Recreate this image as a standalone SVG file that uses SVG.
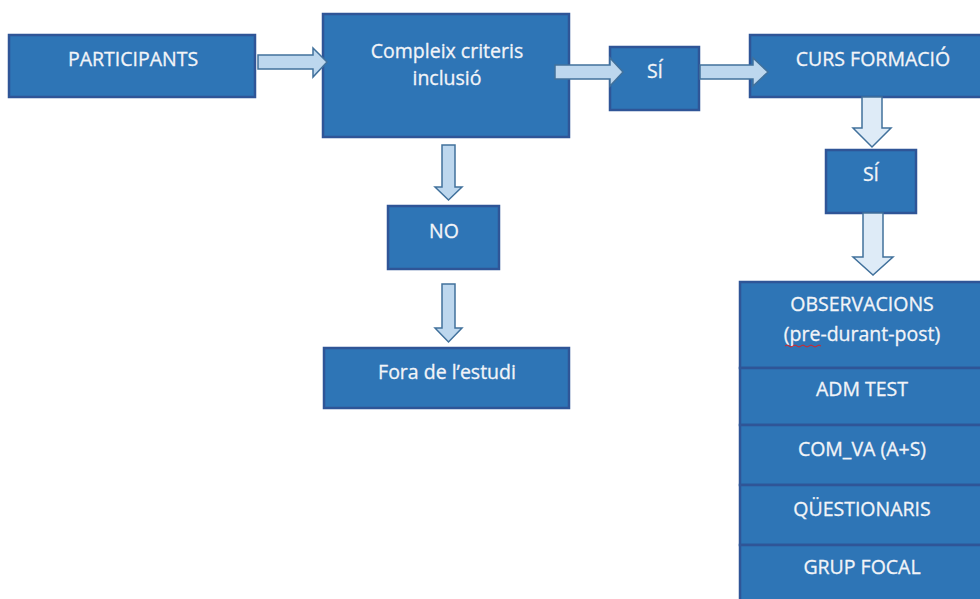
<svg xmlns="http://www.w3.org/2000/svg" width="980" height="599" viewBox="0 0 980 599">
<style>
.box{fill:#2E75B6;stroke:#2F5597;stroke-width:2.5}
.t{fill:#F2F4F8;font-family:"Open Sans","Liberation Sans",sans-serif;font-size:19.5px;text-anchor:middle;stroke:#F2F4F8;stroke-width:0.3}
.arr{fill:#BDD7EE;stroke:#41719C;stroke-width:1.5;stroke-linejoin:miter}
.arrl{fill:#DEEBF7;stroke:#41719C;stroke-width:1.5}
</style>
<rect width="980" height="599" fill="#FFFFFF"/>
<g id="participants"><rect class="box" x="9" y="35" width="246" height="62"/><text class="t" x="133" y="66">PARTICIPANTS</text></g>
<g id="compleix"><rect class="box" x="323" y="14" width="246" height="123"/><text class="t" x="447" y="58">Compleix criteris</text><text class="t" x="447" y="85">inclusió</text></g>
<g id="si1"><rect class="box" x="610" y="47" width="89" height="63"/><text class="t" x="655" y="78">SÍ</text></g>
<g id="curs"><rect class="box" x="750" y="35" width="235" height="62"/><text class="t" x="873" y="66">CURS FORMACIÓ</text></g>
<g id="si2"><rect class="box" x="826" y="150" width="90" height="63"/><text class="t" x="871" y="181">SÍ</text></g>
<g id="no"><rect class="box" x="388" y="206" width="111" height="63"/><text class="t" x="444" y="238">NO</text></g>
<g id="fora"><rect class="box" x="324" y="348" width="245" height="60"/><text class="t" x="447" y="379">Fora de l’estudi</text></g>
<g id="observacions"><rect class="box" x="740" y="282" width="245" height="86"/><text class="t" x="862" y="311">OBSERVACIONS</text><text class="t" x="862" y="341">(pre-durant-post)</text><path d="M785 346 q2 -2 4 0 t4 0 t4 0 t4 0 t4 0 t4 0 t4 0 t4 0 t4 0" fill="none" stroke="#E02020" stroke-width="1"/></g>
<g id="admtest"><rect class="box" x="740" y="368" width="245" height="57"/><text class="t" x="862" y="396">ADM TEST</text></g>
<g id="comva"><rect class="box" x="740" y="425" width="245" height="60"/><text class="t" x="862" y="456">COM_VA (A+S)</text></g>
<g id="questionaris"><rect class="box" x="740" y="485" width="245" height="60"/><text class="t" x="862" y="516">QÜESTIONARIS</text></g>
<g id="grupfocal"><rect class="box" x="740" y="545" width="245" height="60"/><text class="t" x="862" y="574">GRUP FOCAL</text></g>
<g id="connectors">
<polygon class="arr" points="258,55 313,55 313,48 327,62 313,77 313,69 258,69"/>
<polygon class="arr" points="555,65 610,65 610,58 623,72 610,86 610,79 555,79"/>
<polygon class="arr" points="700,65 753,65 753,58 768,72 753,86 753,79 700,79"/>
<polygon class="arrl" points="862,97 882,97 882,128 891,128 872,147 853,128 862,128"/>
<polygon class="arrl" points="863,213 883,213 883,257 893,257 873,275 853,257 863,257"/>
<polygon class="arr" points="442,145 455,145 455,187 462,187 448.5,200 435,187 442,187"/>
<polygon class="arr" points="442,284 455,284 455,328 462,328 448.5,342 435,328 442,328"/>
</g>
</svg>
